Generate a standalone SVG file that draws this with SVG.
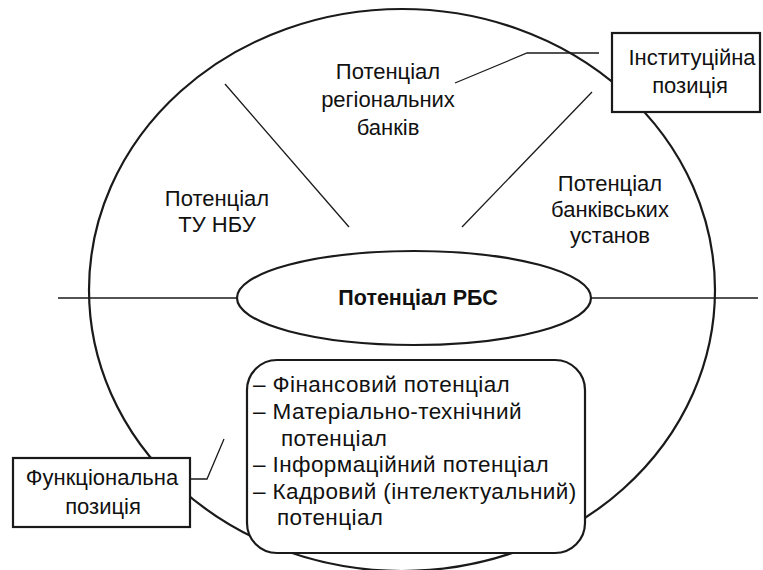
<svg xmlns="http://www.w3.org/2000/svg" width="763" height="570" viewBox="0 0 763 570">
<style>
.bg{fill:#fff}
.thick{fill:#fff;stroke:#1a1a1a;stroke-width:2.2}
.thin{fill:none;stroke:#1a1a1a;stroke-width:1.3}
text{font-family:"Liberation Sans","Noto Sans",sans-serif;font-size:22px;fill:#111}
.c{text-anchor:middle}
.b{font-weight:bold;font-size:21.5px}
.l{font-size:22.5px;letter-spacing:0.4px}
</style>
<rect class="bg" x="0" y="0" width="763" height="570"/>
<g id="outer">
<ellipse class="thick" cx="402" cy="290" rx="313" ry="281" fill="none"/>
</g>
<g id="connectors">
<line class="thin" x1="58" y1="298" x2="237" y2="298"/>
<line class="thin" x1="592" y1="298" x2="758" y2="298"/>
<line class="thin" x1="225" y1="84" x2="349" y2="227"/>
<line class="thin" x1="592" y1="92" x2="462" y2="227"/>
<polyline class="thin" points="455,83 527,53 599,53"/>
<polyline class="thin" points="190,479 207,479 224,439"/>
</g>
<g id="labels">
<text class="c" x="388" y="79">Потенціал</text>
<text class="c" x="388" y="107">регіональних</text>
<text class="c" x="388" y="135">банків</text>
<text class="c" x="217" y="206">Потенціал</text>
<text class="c" x="217" y="232">ТУ НБУ</text>
<text class="c" x="610" y="191">Потенціал</text>
<text class="c" x="610" y="217">банківських</text>
<text class="c" x="610" y="243">установ</text>
</g>
<g id="center">
<ellipse class="thick" cx="414" cy="298" rx="177" ry="47"/>
<text class="c b" x="418" y="305">Потенціал РБС</text>
</g>
<g id="institutional">
<rect class="thick" x="612" y="33" width="148" height="79"/>
<text class="c" x="692" y="65">Інституційна</text>
<text class="c" x="690" y="93">позиція</text>
</g>
<g id="functional">
<rect class="thick" x="13" y="458" width="177" height="69"/>
<text class="c" x="102" y="485">Функціональна</text>
<text class="c" x="103" y="514">позиція</text>
</g>
<g id="components">
<rect class="thick" x="247" y="360" width="338" height="193" rx="30" ry="30"/>
<text class="l" x="253" y="392">– Фінансовий потенціал</text>
<text class="l" x="253" y="419">– Матеріально-технічний</text>
<text class="l" x="281" y="446">потенціал</text>
<text class="l" x="253" y="472">– Інформаційний потенціал</text>
<text class="l" x="253" y="499">– Кадровий (інтелектуальний)</text>
<text class="l" x="277" y="525">потенціал</text>
</g>
</svg>
